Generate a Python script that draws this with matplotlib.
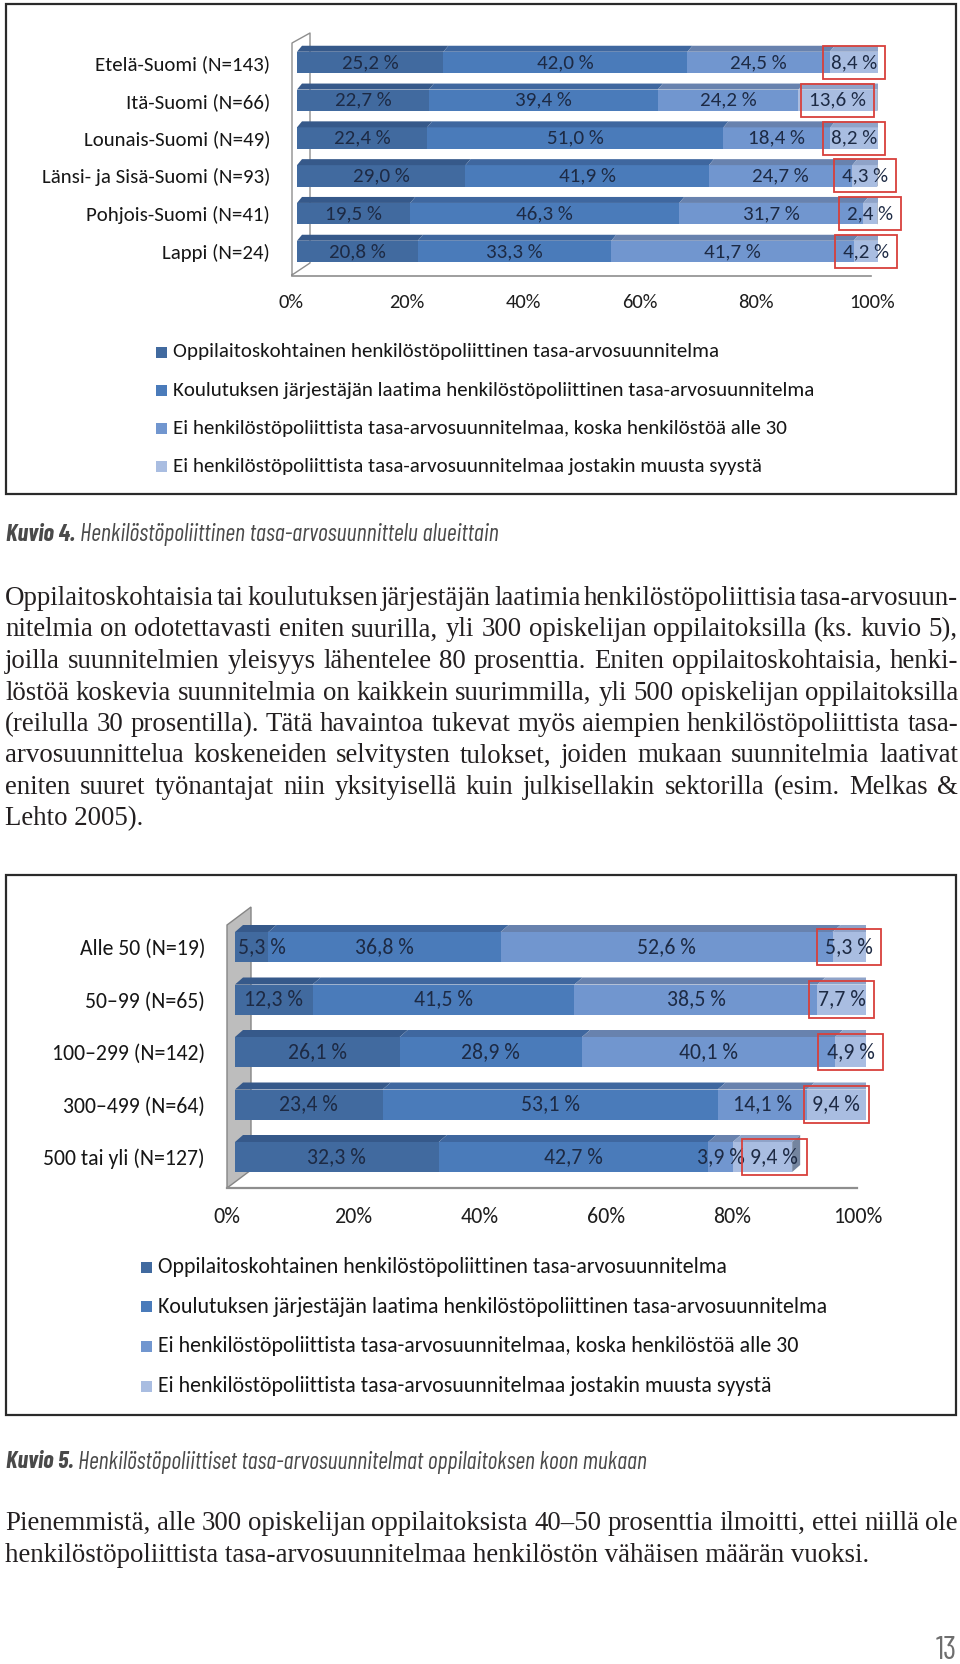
import numpy as np
import matplotlib
matplotlib.use("Agg")
import matplotlib.pyplot as plt
from matplotlib.patches import Polygon, Rectangle
import matplotlib.transforms as mtransforms
from matplotlib import font_manager

# ---------------- data ----------------
legend_labels = [
    "Oppilaitoskohtainen henkilöstöpoliittinen tasa-arvosuunnitelma",
    "Koulutuksen järjestäjän laatima henkilöstöpoliittinen tasa-arvosuunnitelma",
    "Ei henkilöstöpoliittista tasa-arvosuunnitelmaa, koska henkilöstöä alle 30",
    "Ei henkilöstöpoliittista tasa-arvosuunnitelmaa jostakin muusta syystä",
]
regions = ["Etelä-Suomi (N=143)", "Itä-Suomi (N=66)", "Lounais-Suomi (N=49)",
           "Länsi- ja Sisä-Suomi (N=93)", "Pohjois-Suomi (N=41)", "Lappi (N=24)"]
reg_s1 = [25.2, 22.7, 22.4, 29.0, 19.5, 20.8]
reg_s2 = [42.0, 39.4, 51.0, 41.9, 46.3, 33.3]
reg_s3 = [24.5, 24.2, 18.4, 24.7, 31.7, 41.7]
reg_s4 = [8.4, 13.6, 8.2, 4.3, 2.4, 4.2]

sizes = ["Alle 50 (N=19)", "50–99 (N=65)", "100–299 (N=142)",
         "300–499 (N=64)", "500 tai yli (N=127)"]
size_s1 = [5.3, 12.3, 26.1, 23.4, 32.3]
size_s2 = [36.8, 41.5, 28.9, 53.1, 42.7]
size_s3 = [52.6, 38.5, 40.1, 14.1, 3.9]
size_s4 = [5.3, 7.7, 4.9, 9.4, 9.4]

tick_values = [0, 20, 40, 60, 80, 100]
tick_labels = ["0%", "20%", "40%", "60%", "80%", "100%"]

caption4 = ("Kuvio 4.", "Henkilöstöpoliittinen tasa-arvosuunnittelu alueittain")
caption5 = ("Kuvio 5.", "Henkilöstöpoliittiset tasa-arvosuunnitelmat oppilaitoksen koon mukaan")

para1 = [
    "Oppilaitoskohtaisia tai koulutuksen järjestäjän laatimia henkilöstöpoliittisia tasa-arvosuun-",
    "nitelmia on odotettavasti eniten suurilla, yli 300 opiskelijan oppilaitoksilla (ks. kuvio 5),",
    "joilla suunnitelmien yleisyys lähentelee 80 prosenttia. Eniten oppilaitoskohtaisia, henki-",
    "löstöä koskevia suunnitelmia on kaikkein suurimmilla, yli 500 opiskelijan oppilaitoksilla",
    "(reilulla 30 prosentilla). Tätä havaintoa tukevat myös aiempien henkilöstöpoliittista tasa-",
    "arvosuunnittelua koskeneiden selvitysten tulokset, joiden mukaan suunnitelmia laativat",
    "eniten suuret työnantajat niin yksityisellä kuin julkisellakin sektorilla (esim. Melkas &",
    "Lehto 2005).",
]
para2 = [
    "Pienemmistä, alle 300 opiskelijan oppilaitoksista 40–50 prosenttia ilmoitti, ettei niillä ole",
    "henkilöstöpoliittista tasa-arvosuunnitelmaa henkilöstön vähäisen määrän vuoksi.",
]
page_number = "13"

# ---------------- style ----------------
W, H = 960, 1664
FRONT = ["#416a9f", "#4a7bba", "#7196cf", "#a9bde1"]
TOP = ["#36598a", "#3f679f", "#6882ae", "#8fa3c8"]
SIDE = "#74859f"
RED = "#d8403b"
LABEL_COLOR = "#1d2a44"

_entries = font_manager.fontManager.ttflist
_names = {f.name for f in _entries}
_italic_names = {f.name for f in _entries if f.style in ("italic", "oblique")}


def pick(cands, fallback, italic=False):
    pool = _italic_names if italic else _names
    for c in cands:
        if c in pool:
            return c
    return fallback


CHART_FONT = pick(["Carlito", "Lato"], "DejaVu Sans")
SERIF = pick(["Liberation Serif"], "DejaVu Serif")
CAP_FONT = pick(["Barlow Condensed", "Roboto Condensed", "Fira Sans Condensed",
                 "Archivo Narrow", "Liberation Sans Narrow", "Encode Sans Condensed",
                 "Asap Condensed", "Saira Condensed"], "Roboto", italic=True)
NUM_FONT = pick(["Barlow Condensed", "Roboto Condensed", "PT Sans Narrow",
                 "Liberation Sans Narrow"], "Roboto")

fig = plt.figure(figsize=(W / 100, H / 100), dpi=100)
renderer = fig.canvas.get_renderer()


def text_w(s, size, **kw):
    t = fig.text(0, 0, s, fontsize=size, **kw)
    w = t.get_window_extent(renderer=renderer).width
    t.remove()
    return w


def fit(s, target, **kw):
    return 20.0 * target / text_w(s, 20.0, **kw)


page = fig.add_axes([0, 0, 1, 1])
page.set_xlim(0, W)
page.set_ylim(H, 0)
page.axis("off")

# frames
page.add_patch(Rectangle((6, 4), 950, 490, fill=False, ec="#2a2a2a", lw=1.6))
page.add_patch(Rectangle((6, 875), 950, 540, fill=False, ec="#2a2a2a", lw=1.6))

# 3D walls / floors
page.plot([292, 292, 310, 310, 292], [275, 43, 33, 263, 275], color="#8e8e8e", lw=1.0)
page.plot([292, 871], [276, 276], color="#8e8e8e", lw=1.2)
page.add_patch(Polygon([(227, 1188), (227, 925), (251, 907), (251, 1170)],
                       closed=True, fc="#bdbdbd", ec="#858585", lw=1.0))
page.plot([227, 857], [1188, 1188], color="#8e8e8e", lw=1.6)


def fmt(v):
    return ("%.1f %%" % v).replace(".", ",")


def draw_chart(rect, cats, series, bar_h_px, dx_px, dy_px, lab_ref, lab_w,
               cat_ref, cat_w, cat_pad, tick_y, tick_off, tick_w):
    x0, x1, y0, y1 = rect
    ax = fig.add_axes([x0 / W, 1 - y1 / H, (x1 - x0) / W, (y1 - y0) / H])
    n = len(cats)
    ax.set_xlim(0, 100)
    ax.set_ylim(n - 0.5, -0.5)
    ax.patch.set_alpha(0)
    for s in ax.spines.values():
        s.set_visible(False)
    ux = (x1 - x0) / 100.0
    uy = (y1 - y0) / n
    h = bar_h_px / uy
    dx = dx_px / ux
    dy = dy_px / uy
    ys = np.arange(n)
    left = np.zeros(n)
    lab_size = fit(lab_ref, lab_w, family=CHART_FONT)
    positions = [[] for _ in range(n)]
    for k, vals in enumerate(series):
        vals = np.asarray(vals, dtype=float)
        ax.barh(ys, vals, left=left, height=h, color=FRONT[k], lw=0, zorder=2)
        for i in range(n):
            a, b = left[i], left[i] + vals[i]
            top = ys[i] - h / 2
            ax.add_patch(Polygon([(a, top), (b, top), (b + dx, top - dy), (a + dx, top - dy)],
                                 closed=True, fc=TOP[k], ec="none", zorder=2))
            positions[i].append((a + vals[i] / 2, vals[i], k))
        left = left + vals
    for i in range(n):
        e = left[i]
        top = ys[i] - h / 2
        bot = ys[i] + h / 2
        ax.add_patch(Polygon([(e, top), (e + dx, top - dy), (e + dx, bot - dy), (e, bot)],
                             closed=True, fc=SIDE, ec="none", zorder=2))
    # data labels with simple overlap avoidance
    for i in range(n):
        prev_right = 3.0 / ux
        for c, v, k in positions[i]:
            s = fmt(v)
            w = text_w(s, lab_size, family=CHART_FONT) / ux
            gap = 6.0 / ux if k > 0 else 0
            if c - w / 2 < prev_right + gap:
                c = prev_right + gap + w / 2
            prev_right = c + w / 2
            kw = {}
            if k == 3:
                kw["bbox"] = dict(boxstyle="square,pad=0.38", fc="none", ec=RED, lw=1.3)
            ax.text(c, ys[i], s, ha="center", va="center", fontsize=lab_size,
                    family=CHART_FONT, color=LABEL_COLOR, zorder=5, **kw)
    cat_size = fit(cat_ref, cat_w, family=CHART_FONT)
    ax.set_yticks(ys)
    ax.set_yticklabels(cats, fontsize=cat_size, family=CHART_FONT, color="#161616")
    ax.tick_params(axis="y", length=0, pad=cat_pad * 0.72)
    ax.set_xticks([])
    tick_size = fit("100%", tick_w, family=CHART_FONT)
    tr = mtransforms.blended_transform_factory(ax.transData, page.transData)
    tr = mtransforms.offset_copy(tr, fig=fig, x=tick_off, y=0, units="dots")
    for v, l in zip(tick_values, tick_labels):
        ax.text(v, tick_y, l, transform=tr, ha="center", va="center",
                fontsize=tick_size, family=CHART_FONT, color="#1e1e1e")
    return ax


draw_chart((297, 878, 43.6, 270.4), regions, [reg_s1, reg_s2, reg_s3, reg_s4],
           21.5, 5, 6, "25,2 %", 57, "Länsi- ja Sisä-Suomi (N=93)", 228, 27, 303, -6, 46)
draw_chart((235, 866, 920.75, 1183.25), sizes, [size_s1, size_s2, size_s3, size_s4],
           30, 8, 7, "36,8 %", 59, "500 tai yli (N=127)", 162, 30, 1217, -8, 49)


def draw_legend(x_sq, x_txt, y0, step, ref_idx, ref_w):
    size = fit(legend_labels[ref_idx], ref_w, family=CHART_FONT)
    for k, lab in enumerate(legend_labels):
        y = y0 + step * k
        page.add_patch(Rectangle((x_sq, y - 5.5), 11, 11, fc=FRONT[k], ec="none"))
        page.text(x_txt, y, lab, ha="left", va="center", fontsize=size,
                  family=CHART_FONT, color="#161616")


draw_legend(156, 173, 352, 38.3, 0, 547)
draw_legend(141, 158, 1267, 39.7, 1, 670)


def caption(parts, y, x_end):
    full = parts[0] + " " + parts[1]
    size = fit(full, x_end - 6, family=CAP_FONT, style="italic")
    page.text(6, y, parts[0] + " ", ha="left", va="center", fontsize=size,
              family=CAP_FONT, style="italic", weight="bold", color="#4a4a4a")
    wb = text_w(parts[0] + " ", size, family=CAP_FONT, style="italic", weight="bold")
    page.text(6 + wb, y, parts[1], ha="left", va="center", fontsize=size,
              family=CAP_FONT, style="italic", color="#4a4a4a")


caption(caption4, 535, 493)
caption(caption5, 1462, 642)

body_size = fit(para2[1], 865, family=SERIF)


def paragraph(lines, y0, step, x_left=5, x_right=958):
    for j, line in enumerate(lines):
        y = y0 + step * j
        last = (j == len(lines) - 1)
        if last:
            page.text(x_left, y, line, ha="left", va="baseline", fontsize=body_size,
                      family=SERIF, color="#231f20")
            continue
        words = line.split(" ")
        ws = [text_w(wd, body_size, family=SERIF) for wd in words]
        gap = (x_right - x_left - sum(ws)) / (len(words) - 1)
        x = x_left
        for wd, wdt in zip(words, ws):
            page.text(x, y, wd, ha="left", va="baseline", fontsize=body_size,
                      family=SERIF, color="#231f20")
            x += wdt + gap


paragraph(para1, 605, 31.5)
paragraph(para2, 1530, 31.5)

page.text(957, 1659, page_number, ha="right", va="baseline", fontsize=23,
          family=NUM_FONT, color="#6e6e6e")

fig.savefig("out.png", dpi=100)
